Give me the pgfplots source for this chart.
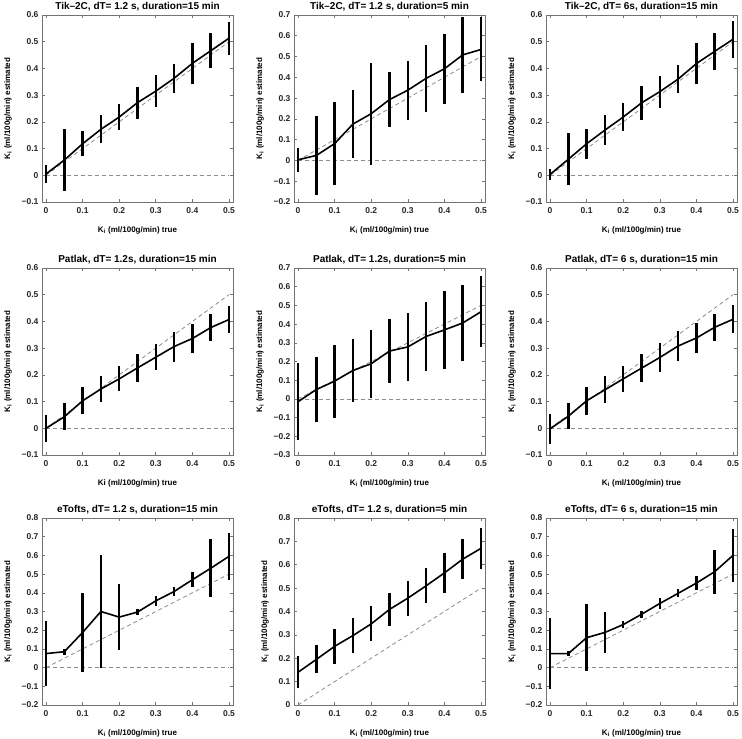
\documentclass[border=0pt]{standalone}
\usepackage{fontspec}
\setmainfont{Liberation Sans}
\usepackage{pgfplots}
\usepackage{pgfplotstable}
\pgfplotsset{compat=1.18}

% columns: true Ki, mean estimate, std
\pgfplotstableread{
x y e
0 0.005 0.033
0.05 0.057 0.115
0.1 0.118 0.047
0.15 0.172 0.053
0.2 0.218 0.050
0.25 0.272 0.060
0.3 0.315 0.059
0.35 0.363 0.054
0.4 0.419 0.077
0.45 0.466 0.066
0.5 0.513 0.061
}\tabA
\pgfplotstableread{
x y e
0 0.003 0.057
0.05 0.024 0.189
0.1 0.081 0.199
0.15 0.175 0.165
0.2 0.225 0.245
0.25 0.293 0.133
0.3 0.338 0.143
0.35 0.395 0.163
0.4 0.441 0.169
0.45 0.508 0.183
0.5 0.534 0.154
}\tabB
\pgfplotstableread{
x y e
0 0.003 0.022
0.05 0.060 0.098
0.1 0.118 0.056
0.15 0.169 0.056
0.2 0.218 0.053
0.25 0.271 0.064
0.3 0.313 0.060
0.35 0.360 0.053
0.4 0.418 0.076
0.45 0.464 0.069
0.5 0.509 0.069
}\tabC
\pgfplotstableread{
x y e
0 0.000 0.050
0.05 0.043 0.051
0.1 0.103 0.050
0.15 0.147 0.047
0.2 0.185 0.047
0.25 0.226 0.051
0.3 0.266 0.049
0.35 0.306 0.056
0.4 0.336 0.056
0.45 0.377 0.052
0.5 0.407 0.052
}\tabD
\pgfplotstableread{
x y e
0 -0.015 0.205
0.05 0.050 0.175
0.1 0.095 0.195
0.15 0.152 0.168
0.2 0.188 0.183
0.25 0.256 0.171
0.3 0.278 0.180
0.35 0.334 0.186
0.4 0.369 0.209
0.45 0.406 0.201
0.5 0.466 0.191
}\tabE
\pgfplotstableread{
x y e
0 -0.002 0.055
0.05 0.045 0.048
0.1 0.103 0.053
0.15 0.144 0.051
0.2 0.185 0.048
0.25 0.225 0.053
0.3 0.265 0.053
0.35 0.308 0.056
0.4 0.338 0.055
0.45 0.378 0.050
0.5 0.408 0.053
}\tabF
\pgfplotstableread{
x y e
0 0.075 0.175
0.05 0.085 0.015
0.1 0.188 0.213
0.15 0.300 0.300
0.2 0.270 0.175
0.25 0.297 0.018
0.3 0.357 0.028
0.35 0.407 0.023
0.4 0.470 0.040
0.45 0.531 0.156
0.5 0.595 0.125
}\tabG
\pgfplotstableread{
x y e
0 0.140 0.068
0.05 0.195 0.060
0.1 0.251 0.076
0.15 0.297 0.075
0.2 0.347 0.075
0.25 0.409 0.071
0.3 0.457 0.075
0.35 0.510 0.075
0.4 0.565 0.087
0.45 0.624 0.086
0.5 0.670 0.087
}\tabH
\pgfplotstableread{
x y e
0 0.075 0.190
0.05 0.075 0.015
0.1 0.160 0.180
0.15 0.188 0.108
0.2 0.230 0.020
0.25 0.285 0.020
0.3 0.343 0.028
0.35 0.397 0.022
0.4 0.452 0.037
0.45 0.513 0.118
0.5 0.600 0.140
}\tabI

\pgfplotsset{
  panel/.style={
    scale only axis, width=191pt, height=187pt,
    anchor=north west,
    xmin=-0.011, xmax=0.511,
    xtick={0,0.1,0.2,0.3,0.4,0.5},
    xticklabels={0,0.1,0.2,0.3,0.4,0.5},
    axis line style={black!55, line width=0.6pt},
    tick style={black!55, line width=0.6pt},
    tick align=inside, major tick length=3pt,
    ticklabel style={font=\bfseries\fontsize{8.5}{9}\selectfont, text=black!85},
    xticklabel style={yshift=-2pt},
    label style={font=\bfseries\fontsize{8}{9}\selectfont},
    every axis title shift=0pt,
    title style={font=\bfseries\fontsize{10}{12}\selectfont, at={(0.5,1)}, anchor=base, yshift=6pt},
    xlabel style={yshift=-6pt},
    ylabel style={yshift=3pt},
    ylabel={K\textsubscript{i} (ml/100g/min) estimated},
    xlabel={K\textsubscript{i} (ml/100g/min) true},
  },
  refline/.style={black!45, line width=0.8pt, dash pattern=on 4pt off 3pt, forget plot},
  est/.style={black, line width=1.6pt, mark=none,
    error bars/.cd, y dir=both, y explicit, error mark=none,
    error bar style={line width=2.4pt, black}},
}

\begin{document}
\begin{tikzpicture}
\useasboundingbox (0,0) rectangle (742pt,-739pt);

% row 1: Tik-2C
\begin{axis}[panel, at={(42pt,-15pt)},
  title={Tik–2C, dT= 1.2 s, duration=15 min},
  ymin=-0.1, ymax=0.6, ytick={-0.1,0,0.1,0.2,0.3,0.4,0.5,0.6},
  yticklabels={−0.1,0,0.1,0.2,0.3,0.4,0.5,0.6}]
\addplot[refline] coordinates {(0,0) (0.5,0)};
\addplot[refline] coordinates {(0,0) (0.5,0.5)};
\addplot[est] table[x=x, y=y, y error=e] {\tabA};
\end{axis}

\begin{axis}[panel, at={(294pt,-15pt)},
  title={Tik–2C, dT= 1.2 s, duration=5 min},
  ymin=-0.2, ymax=0.7, ytick={-0.2,-0.1,0,0.1,0.2,0.3,0.4,0.5,0.6,0.7},
  yticklabels={−0.2,−0.1,0,0.1,0.2,0.3,0.4,0.5,0.6,0.7}]
\addplot[refline] coordinates {(0,0) (0.5,0)};
\addplot[refline] coordinates {(0,0) (0.5,0.5)};
\addplot[est] table[x=x, y=y, y error=e] {\tabB};
\end{axis}

\begin{axis}[panel, at={(546pt,-15pt)},
  title={Tik–2C, dT= 6s, duration=15 min},
  ymin=-0.1, ymax=0.6, ytick={-0.1,0,0.1,0.2,0.3,0.4,0.5,0.6},
  yticklabels={−0.1,0,0.1,0.2,0.3,0.4,0.5,0.6}]
\addplot[refline] coordinates {(0,0) (0.5,0)};
\addplot[refline] coordinates {(0,0) (0.5,0.5)};
\addplot[est] table[x=x, y=y, y error=e] {\tabC};
\end{axis}

% row 2: Patlak
\begin{axis}[panel, at={(42pt,-268pt)},
  title={Patlak, dT= 1.2s, duration=15 min},
  xlabel={Ki (ml/100g/min) true},
  ymin=-0.1, ymax=0.6, ytick={-0.1,0,0.1,0.2,0.3,0.4,0.5,0.6},
  yticklabels={−0.1,0,0.1,0.2,0.3,0.4,0.5,0.6}]
\addplot[refline] coordinates {(0,0) (0.5,0)};
\addplot[refline] coordinates {(0,0) (0.5,0.5)};
\addplot[est] table[x=x, y=y, y error=e] {\tabD};
\end{axis}

\begin{axis}[panel, at={(294pt,-268pt)},
  title={Patlak, dT= 1.2s, duration=5 min},
  ymin=-0.3, ymax=0.7, ytick={-0.3,-0.2,-0.1,0,0.1,0.2,0.3,0.4,0.5,0.6,0.7},
  yticklabels={−0.3,−0.2,−0.1,0,0.1,0.2,0.3,0.4,0.5,0.6,0.7}]
\addplot[refline] coordinates {(0,0) (0.5,0)};
\addplot[refline] coordinates {(0,0) (0.5,0.5)};
\addplot[est] table[x=x, y=y, y error=e] {\tabE};
\end{axis}

\begin{axis}[panel, at={(546pt,-268pt)},
  title={Patlak, dT= 6 s, duration=15 min},
  ymin=-0.1, ymax=0.6, ytick={-0.1,0,0.1,0.2,0.3,0.4,0.5,0.6},
  yticklabels={−0.1,0,0.1,0.2,0.3,0.4,0.5,0.6}]
\addplot[refline] coordinates {(0,0) (0.5,0)};
\addplot[refline] coordinates {(0,0) (0.5,0.5)};
\addplot[est] table[x=x, y=y, y error=e] {\tabF};
\end{axis}

% row 3: eTofts
\begin{axis}[panel, at={(42pt,-518pt)},
  title={eTofts, dT= 1.2 s, duration=15 min},
  ymin=-0.2, ymax=0.8, ytick={-0.2,-0.1,0,0.1,0.2,0.3,0.4,0.5,0.6,0.7,0.8},
  yticklabels={−0.2,−0.1,0,0.1,0.2,0.3,0.4,0.5,0.6,0.7,0.8}]
\addplot[refline] coordinates {(0,0) (0.5,0)};
\addplot[refline] coordinates {(0,0) (0.5,0.5)};
\addplot[est] table[x=x, y=y, y error=e] {\tabG};
\end{axis}

\begin{axis}[panel, at={(294pt,-518pt)},
  title={eTofts, dT= 1.2 s, duration=5 min},
  ymin=0, ymax=0.8, ytick={0,0.1,0.2,0.3,0.4,0.5,0.6,0.7,0.8},
  yticklabels={0,0.1,0.2,0.3,0.4,0.5,0.6,0.7,0.8}]
\addplot[refline] coordinates {(0,0) (0.5,0.5)};
\addplot[est] table[x=x, y=y, y error=e] {\tabH};
\end{axis}

\begin{axis}[panel, at={(546pt,-518pt)},
  title={eTofts, dT= 6 s, duration=15 min},
  ymin=-0.2, ymax=0.8, ytick={-0.2,-0.1,0,0.1,0.2,0.3,0.4,0.5,0.6,0.7,0.8},
  yticklabels={−0.2,−0.1,0,0.1,0.2,0.3,0.4,0.5,0.6,0.7,0.8}]
\addplot[refline] coordinates {(0,0) (0.5,0)};
\addplot[refline] coordinates {(0,0) (0.5,0.5)};
\addplot[est] table[x=x, y=y, y error=e] {\tabI};
\end{axis}
\end{tikzpicture}
\end{document}
